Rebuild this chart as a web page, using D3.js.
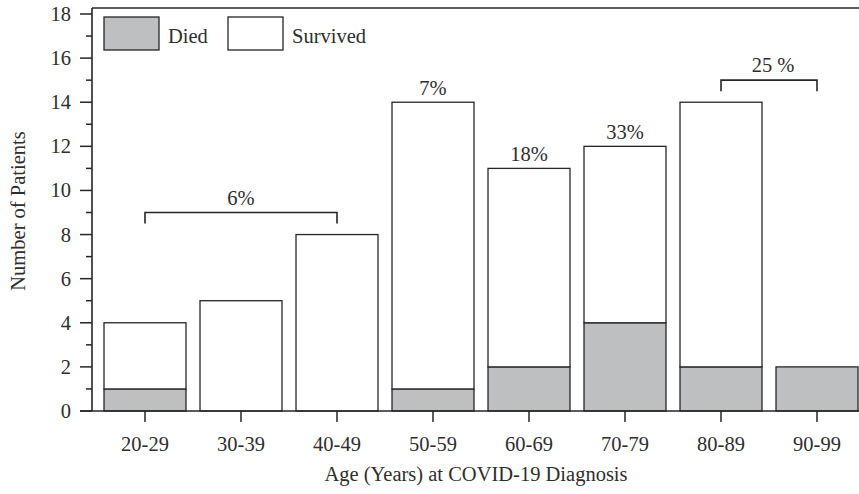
<!DOCTYPE html>
<html>
<head>
<meta charset="utf-8">
<script src="https://cdn.jsdelivr.net/npm/d3@7"></script>
<style>
  html, body { margin: 0; padding: 0; background: #fff; }
  svg text { font-family: "Liberation Serif", "DejaVu Serif", serif; fill: #2e2e2e; }
</style>
</head>
<body>
<svg id="chart" width="859" height="494"></svg>
<script>
// Age groups and patient counts
const ageGroups = ["20-29", "30-39", "40-49", "50-59", "60-69", "70-79", "80-89", "90-99"];
const died      = [1, 0, 0, 1, 2, 4, 2, 2];
const survived  = [3, 5, 8, 13, 9, 8, 12, 0];
const yTicks    = [0, 2, 4, 6, 8, 10, 12, 14, 16, 18];

// Mortality annotations: single-group labels and bracketed group ranges
const singleLabels  = [
  { group: "50-59", text: "7%" },
  { group: "60-69", text: "18%" },
  { group: "70-79", text: "33%" }
];
const bracketLabels = [
  { from: "20-29", to: "40-49", level: 9,  text: "6%" },
  { from: "80-89", to: "90-99", level: 15, text: "25 %" }
];

const svg = d3.select("#chart");
const fontSize = 20.5;
const ink = "#262626";
const greyFill = "#bebfc1";

const x = d3.scaleBand()
  .domain(ageGroups)
  .range([97, 865])
  .paddingInner(0.146)
  .paddingOuter(0.073);

const y = d3.scaleLinear().domain([0, 18]).range([411, 14]);

const axisX = 92;
const frameTop = 8;

// Stacked data
const rows = ageGroups.map((g, i) => ({ group: g, died: died[i], survived: survived[i] }));
const stacked = d3.stack().keys(["died", "survived"])(rows);
const fills = { died: greyFill, survived: "#ffffff" };

// Bars
svg.append("g").selectAll("g")
  .data(stacked)
  .join("g")
  .attr("fill", d => fills[d.key])
  .selectAll("rect")
  .data(d => d.filter(s => s[1] - s[0] > 0))
  .join("rect")
  .attr("x", d => x(d.data.group))
  .attr("width", x.bandwidth())
  .attr("y", d => y(d[1]))
  .attr("height", d => y(d[0]) - y(d[1]))
  .attr("stroke", ink)
  .attr("stroke-width", 1.3);

// Frame: top border line
svg.append("line")
  .attr("x1", axisX).attr("x2", 859)
  .attr("y1", frameTop).attr("y2", frameTop)
  .attr("stroke", ink).attr("stroke-width", 1.6);

// Y axis
const yAxis = svg.append("g");
yAxis.append("line")
  .attr("x1", axisX).attr("x2", axisX)
  .attr("y1", frameTop).attr("y2", y(0))
  .attr("stroke", ink).attr("stroke-width", 1.6);
yAxis.selectAll(".major")
  .data(yTicks)
  .join("line")
  .attr("x1", axisX - 12).attr("x2", axisX)
  .attr("y1", d => y(d)).attr("y2", d => y(d))
  .attr("stroke", ink).attr("stroke-width", 1.5);
yAxis.selectAll(".minor")
  .data(d3.range(1, 18, 2))
  .join("line")
  .attr("x1", axisX - 6).attr("x2", axisX)
  .attr("y1", d => y(d)).attr("y2", d => y(d))
  .attr("stroke", ink).attr("stroke-width", 1.5);
yAxis.selectAll("text")
  .data(yTicks)
  .join("text")
  .attr("x", 71)
  .attr("y", d => y(d))
  .attr("dy", "0.34em")
  .attr("text-anchor", "end")
  .attr("font-size", fontSize)
  .text(d => d);

// X axis
const xAxis = svg.append("g");
xAxis.append("line")
  .attr("x1", axisX - 12).attr("x2", 859)
  .attr("y1", y(0)).attr("y2", y(0))
  .attr("stroke", ink).attr("stroke-width", 1.6);
xAxis.selectAll(".tick")
  .data(ageGroups)
  .join("line")
  .attr("x1", d => x(d) + x.bandwidth() / 2)
  .attr("x2", d => x(d) + x.bandwidth() / 2)
  .attr("y1", y(0)).attr("y2", y(0) + 11)
  .attr("stroke", ink).attr("stroke-width", 1.5);
xAxis.selectAll("text")
  .data(ageGroups)
  .join("text")
  .attr("x", d => x(d) + x.bandwidth() / 2)
  .attr("y", 451)
  .attr("text-anchor", "middle")
  .attr("font-size", fontSize)
  .text(d => d);

// Axis titles
svg.append("text")
  .attr("x", 476).attr("y", 481)
  .attr("text-anchor", "middle")
  .attr("font-size", fontSize)
  .text("Age (Years) at COVID-19 Diagnosis");

svg.append("text")
  .attr("transform", "translate(25,211) rotate(-90)")
  .attr("text-anchor", "middle")
  .attr("font-size", fontSize)
  .text("Number of Patients");

// Single-bar percentage labels
const total = g => died[ageGroups.indexOf(g)] + survived[ageGroups.indexOf(g)];
svg.append("g").selectAll("text")
  .data(singleLabels)
  .join("text")
  .attr("x", d => x(d.group) + x.bandwidth() / 2)
  .attr("y", d => y(total(d.group)) - 7)
  .attr("text-anchor", "middle")
  .attr("font-size", fontSize)
  .text(d => d.text);

// Bracketed percentage labels
const brackets = svg.append("g").selectAll("g")
  .data(bracketLabels)
  .join("g");
brackets.append("path")
  .attr("fill", "none")
  .attr("stroke", ink)
  .attr("stroke-width", 1.6)
  .attr("d", d => {
    const x1 = x(d.from) + x.bandwidth() / 2;
    const x2 = x(d.to) + x.bandwidth() / 2;
    const yt = y(d.level), yb = y(d.level - 0.5);
    return `M${x1},${yb}V${yt}H${x2}V${yb}`;
  });
brackets.append("text")
  .attr("x", d => (x(d.from) + x(d.to) + x.bandwidth()) / 2 + (d.text.includes(" ") ? 4 : 0))
  .attr("y", d => y(d.level) - 8)
  .attr("text-anchor", "middle")
  .attr("font-size", fontSize)
  .text(d => d.text);

// Legend
const legendItems = [
  { key: "died", label: "Died", x: 104 },
  { key: "survived", label: "Survived", x: 228 }
];
const legend = svg.append("g").selectAll("g")
  .data(legendItems)
  .join("g")
  .attr("transform", d => `translate(${d.x},17)`);
legend.append("rect")
  .attr("width", 55).attr("height", 33)
  .attr("fill", d => fills[d.key])
  .attr("stroke", ink).attr("stroke-width", 1.3);
legend.append("text")
  .attr("x", 64).attr("y", 26)
  .attr("font-size", fontSize)
  .text(d => d.label);
</script>
</body>
</html>
